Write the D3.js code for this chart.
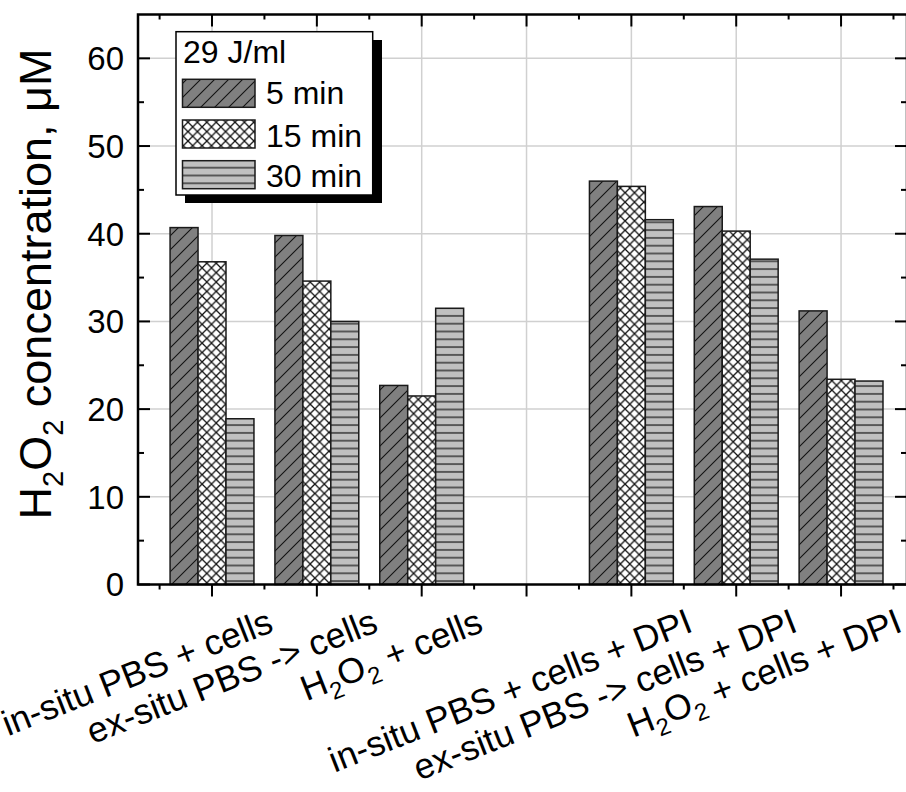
<!DOCTYPE html>
<html><head><meta charset="utf-8">
<script src="https://cdn.jsdelivr.net/npm/d3@7"></script>
<style>
html,body{margin:0;padding:0;background:#fff;}
svg{display:block;font-family:"Liberation Sans",Arial,Helvetica,sans-serif;}
</style></head>
<body>
<svg id="chart" width="906" height="792"></svg>
<script>
// ---- data ----
const categories = ["in-situ PBS + cells", "ex-situ PBS -> cells", "H2O2 + cells", "",
  "in-situ PBS + cells + DPI", "ex-situ PBS -> cells + DPI", "H2O2 + cells + DPI"];
const seriesNames = ["5 min", "15 min", "30 min"];
const values5 = [40.7, 39.8, 22.7, null, 46.0, 43.1, 31.2];
const values15 = [36.8, 34.6, 21.5, null, 45.4, 40.3, 23.4];
const values30 = [18.9, 30.0, 31.5, null, 41.6, 37.1, 23.2];
const yTicks = [0, 10, 20, 30, 40, 50, 60];
const legendTitle = "29 J/ml";
const yTitle = "H2O2 concentration, \u03bcM";

(function () {
const series = [values5, values15, values30];
const patterns = ["pHatch", "pCross", "pHoriz"];

const svg = d3.select("#chart");
const pL = 138, pR = 907, pT = 14.5, pB = 584.5;
const x = d3.scaleLinear().domain([0.294, 7.629]).range([pL, pR]);
const y = d3.scaleLinear().domain([0, 65]).range([pB, pT]);
const idx = categories.map((c, i) => i + 1);
const barW = (x(2) - x(1)) * 0.8 / 3;

// ---- patterns ----
const defs = svg.append("defs");
const ph = defs.append("pattern").attr("id", "pHatch").attr("patternUnits", "userSpaceOnUse")
  .attr("width", 14).attr("height", 14);
ph.append("rect").attr("width", 14).attr("height", 14).attr("fill", "#808080");
ph.append("path").attr("d", "M0,14L14,0M-3.5,3.5L3.5,-3.5M10.5,17.5L17.5,10.5")
  .attr("stroke", "#111").attr("stroke-width", 1.1);
const pc = defs.append("pattern").attr("id", "pCross").attr("patternUnits", "userSpaceOnUse")
  .attr("width", 9.4).attr("height", 9.4);
pc.append("rect").attr("width", 9.4).attr("height", 9.4).attr("fill", "#fff");
pc.append("path").attr("d", "M-1,-1L10.4,10.4M10.4,-1L-1,10.4")
  .attr("stroke", "#111").attr("stroke-width", 1.3);
const pz = defs.append("pattern").attr("id", "pHoriz").attr("patternUnits", "userSpaceOnUse")
  .attr("width", 10).attr("height", 7.8);
pz.append("rect").attr("width", 10).attr("height", 7.8).attr("fill", "#c0c0c0");
pz.append("line").attr("x1", 0).attr("x2", 10).attr("y1", 3.9).attr("y2", 3.9)
  .attr("stroke", "#222").attr("stroke-width", 1.3);

// ---- grid ----
const grid = svg.append("g");
grid.selectAll("line.h").data(yTicks.filter(d => d > 0)).join("line")
  .attr("x1", pL).attr("x2", pR).attr("y1", d => y(d)).attr("y2", d => y(d))
  .attr("stroke", "#d0d0d0").attr("stroke-width", 1.5);
grid.selectAll("line.v").data(idx).join("line")
  .attr("y1", pT).attr("y2", pB).attr("x1", d => x(d)).attr("x2", d => x(d))
  .attr("stroke", "#d0d0d0").attr("stroke-width", 1.5);

// ---- bars ----
series.forEach((vals, k) => {
  svg.append("g").selectAll("rect").data(vals.map((v, i) => ({v, i: i + 1})).filter(d => d.v != null))
    .join("rect")
    .attr("x", d => x(d.i) - 1.5 * barW + k * barW)
    .attr("width", barW)
    .attr("y", d => y(d.v))
    .attr("height", d => y(0) - y(d.v))
    .attr("fill", `url(#${patterns[k]})`)
    .attr("stroke", "#1a1a1a").attr("stroke-width", 1.5);
});

// ---- axes ----
const ax = svg.append("g");
const yMajor = yTicks, yMinor = d3.range(5, 65, 10);
const xMinor = d3.range(0.5, 8, 1).filter(d => x(d) > pL && x(d) < pR);
function tl(sel, data, a) {
  sel.append("g").selectAll("line").data(data).join("line")
    .attr("x1", a.x1).attr("x2", a.x2).attr("y1", a.y1).attr("y2", a.y2)
    .attr("stroke", "#000").attr("stroke-width", 2);
}
tl(ax, yMajor, {x1: pL, x2: pL + 12, y1: d => y(d), y2: d => y(d)});
tl(ax, yMinor, {x1: pL, x2: pL + 6, y1: d => y(d), y2: d => y(d)});
tl(ax, yMajor, {x1: pR, x2: pR - 12, y1: d => y(d), y2: d => y(d)});
tl(ax, yMinor, {x1: pR, x2: pR - 6, y1: d => y(d), y2: d => y(d)});
tl(ax, idx, {x1: d => x(d), x2: d => x(d), y1: pB, y2: pB + 12});
tl(ax, xMinor, {x1: d => x(d), x2: d => x(d), y1: pB, y2: pB + 5});
tl(ax, idx, {x1: d => x(d), x2: d => x(d), y1: pT, y2: pT + 12});
tl(ax, xMinor, {x1: d => x(d), x2: d => x(d), y1: pT, y2: pT + 5});
ax.append("rect").attr("x", pL).attr("y", pT).attr("width", pR - pL).attr("height", pB - pT)
  .attr("fill", "none").attr("stroke", "#000").attr("stroke-width", 2.5);

// y tick labels
svg.append("g").selectAll("text").data(yTicks).join("text")
  .attr("x", 124).attr("y", d => y(d)).attr("dy", "0.36em")
  .attr("text-anchor", "end").attr("font-size", 33).text(d => d);

// text with subscripted digits in H2O2
function richText(sel, str, subSize, subShift) {
  const tokens = [];
  str.split(/(H2O2)/).forEach(p => {
    if (p === "H2O2") {
      tokens.push({t: "H"}, {t: "2", sub: true}, {t: "O"}, {t: "2", sub: true});
    } else if (p.length) tokens.push({t: p});
  });
  let shifted = false;
  tokens.forEach(tk => {
    const s = sel.append("tspan").text(tk.t);
    if (tk.sub) {
      s.attr("font-size", subSize);
      if (!shifted) { s.attr("dy", subShift); shifted = true; }
    } else if (shifted) {
      s.attr("dy", -subShift); shifted = false;
    }
  });
}

// x labels
const angle = -21.5;
categories.forEach((c, i) => {
  if (!c) return;
  const t = svg.append("text")
    .attr("transform", `translate(${x(i + 1) + 63},631) rotate(${angle})`)
    .attr("text-anchor", "end").attr("font-size", 35.5);
  richText(t, c, 24, 9);
});

// y title
const yt = svg.append("text").attr("transform", "translate(51,284) rotate(-90)")
  .attr("text-anchor", "middle").attr("font-size", 45);
richText(yt, yTitle, 29, 12);

// ---- legend ----
const lg = svg.append("g");
lg.append("rect").attr("x", 185).attr("y", 40).attr("width", 197).attr("height", 163).attr("fill", "#000");
lg.append("rect").attr("x", 176).attr("y", 31.7).attr("width", 196.7).attr("height", 163.3)
  .attr("fill", "#fff").attr("stroke", "#000").attr("stroke-width", 1.5);
lg.append("text").attr("x", 183).attr("y", 63.3).attr("font-size", 32).text(legendTitle);
const swY = [79.3, 120, 160.7], labY = [104, 146.7, 186.7];
seriesNames.forEach((n, k) => {
  lg.append("rect").attr("x", 182.5).attr("y", swY[k]).attr("width", 72.5).attr("height", 28)
    .attr("fill", `url(#${patterns[k]})`).attr("stroke", "#1a1a1a").attr("stroke-width", 1.5);
  lg.append("text").attr("x", 266).attr("y", labY[k]).attr("font-size", 32).text(n);
});
})();
</script>
</body></html>
